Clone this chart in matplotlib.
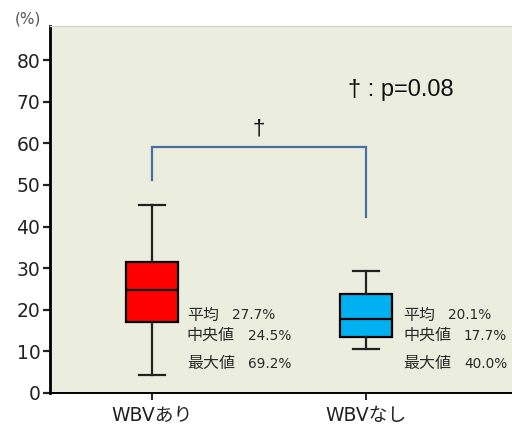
import matplotlib
matplotlib.use("Agg")
import matplotlib.pyplot as plt

plt.rcParams['font.family'] = ['DejaVu Sans', 'Noto Sans CJK JP']

categories = ["WBVあり", "WBVなし"]
whislo = [4.3, 10.5]
q1 = [17.1, 13.5]
med = [24.8, 17.8]
q3 = [31.6, 23.8]
whishi = [45.2, 29.4]
box_colors = ["#FF0000", "#00B0F0"]
stat_names = ["平均", "中央値", "最大値"]
mean_labels = ["27.7%", "20.1%"]
median_labels = ["24.5%", "17.7%"]
max_labels = ["69.2%", "40.0%"]
yticks = [0, 10, 20, 30, 40, 50, 60, 70, 80]
bracket_top = 59.1
bracket_left_bottom = 51.2
bracket_right_bottom = 42.4
p_text = "† : p=0.08"

bg = "#EBEEDF"
fig = plt.figure(figsize=(5.12, 4.28), dpi=100)
ax = fig.add_axes([50/512, 1 - 393/428, 462/512, (393 - 26)/428])
ax.set_facecolor(bg)

positions = [1, 2]
stats = []
for i in range(2):
    stats.append(dict(whislo=whislo[i], q1=q1[i], med=med[i], q3=q3[i],
                      whishi=whishi[i], fliers=[], label=categories[i]))
bp = ax.bxp(stats, positions=positions, widths=0.243, patch_artist=True,
            showfliers=False,
            boxprops=dict(edgecolor="black", linewidth=1.6),
            medianprops=dict(color="black", linewidth=1.6),
            whiskerprops=dict(color="#222222", linewidth=1.6),
            capprops=dict(color="#222222", linewidth=1.6),
            capwidths=0.125)
for patch, c in zip(bp['boxes'], box_colors):
    patch.set_facecolor(c)

ax.set_xlim(0.5234, 2.682)
ax.set_ylim(0, 88.2)
ax.set_yticks(yticks)
ax.set_yticklabels([str(v) for v in yticks])
ax.set_xticks(positions)
ax.set_xticklabels(categories)
ax.tick_params(axis='y', labelsize=13.5, length=5, width=1.6, colors='#222222', pad=2)
ax.tick_params(axis='x', labelsize=13.5, length=5, width=1.4, colors='#222222', pad=4)

ax.spines['left'].set_linewidth(2)
ax.spines['left'].set_color('black')
ax.spines['bottom'].set_linewidth(1.4)
ax.spines['bottom'].set_color('black')
ax.spines['top'].set_color('#D4D4D4')
ax.spines['top'].set_linewidth(1)
ax.spines['right'].set_visible(False)

# bracket
ax.plot([1, 1, 2, 2], [bracket_left_bottom, bracket_top, bracket_top, bracket_right_bottom],
        color="#4A6FA5", linewidth=1.6, solid_joinstyle='miter')
ax.text(1.5, 63.5, "†", ha='center', va='center', fontsize=16,
        family=['Liberation Sans', 'DejaVu Sans'], color='#111111')
ax.text(1.916, 72.9, p_text, ha='left', va='center', fontsize=17,
        family=['Liberation Sans', 'DejaVu Sans'], color='#111111')

# annotations
ann_x = [1.163, 2.173]
row_y = [18.7, 13.8, 7.0]
val_off = [0.209, 0.285, 0.285]
for i in range(2):
    vals = [mean_labels[i], median_labels[i], max_labels[i]]
    for j in range(3):
        ax.text(ann_x[i], row_y[j], stat_names[j], ha='left', va='center',
                fontsize=11.5, color='#2A2A2A', family=['Noto Sans CJK JP'])
        ax.text(ann_x[i] + val_off[j], row_y[j], vals[j], ha='left', va='center',
                fontsize=9.8, color='#2A2A2A')

fig.text(15/512, 1 - 19/428, "(%)", ha='left', va='center', fontsize=11, color='#555555')

fig.savefig("out.png", dpi=100)
